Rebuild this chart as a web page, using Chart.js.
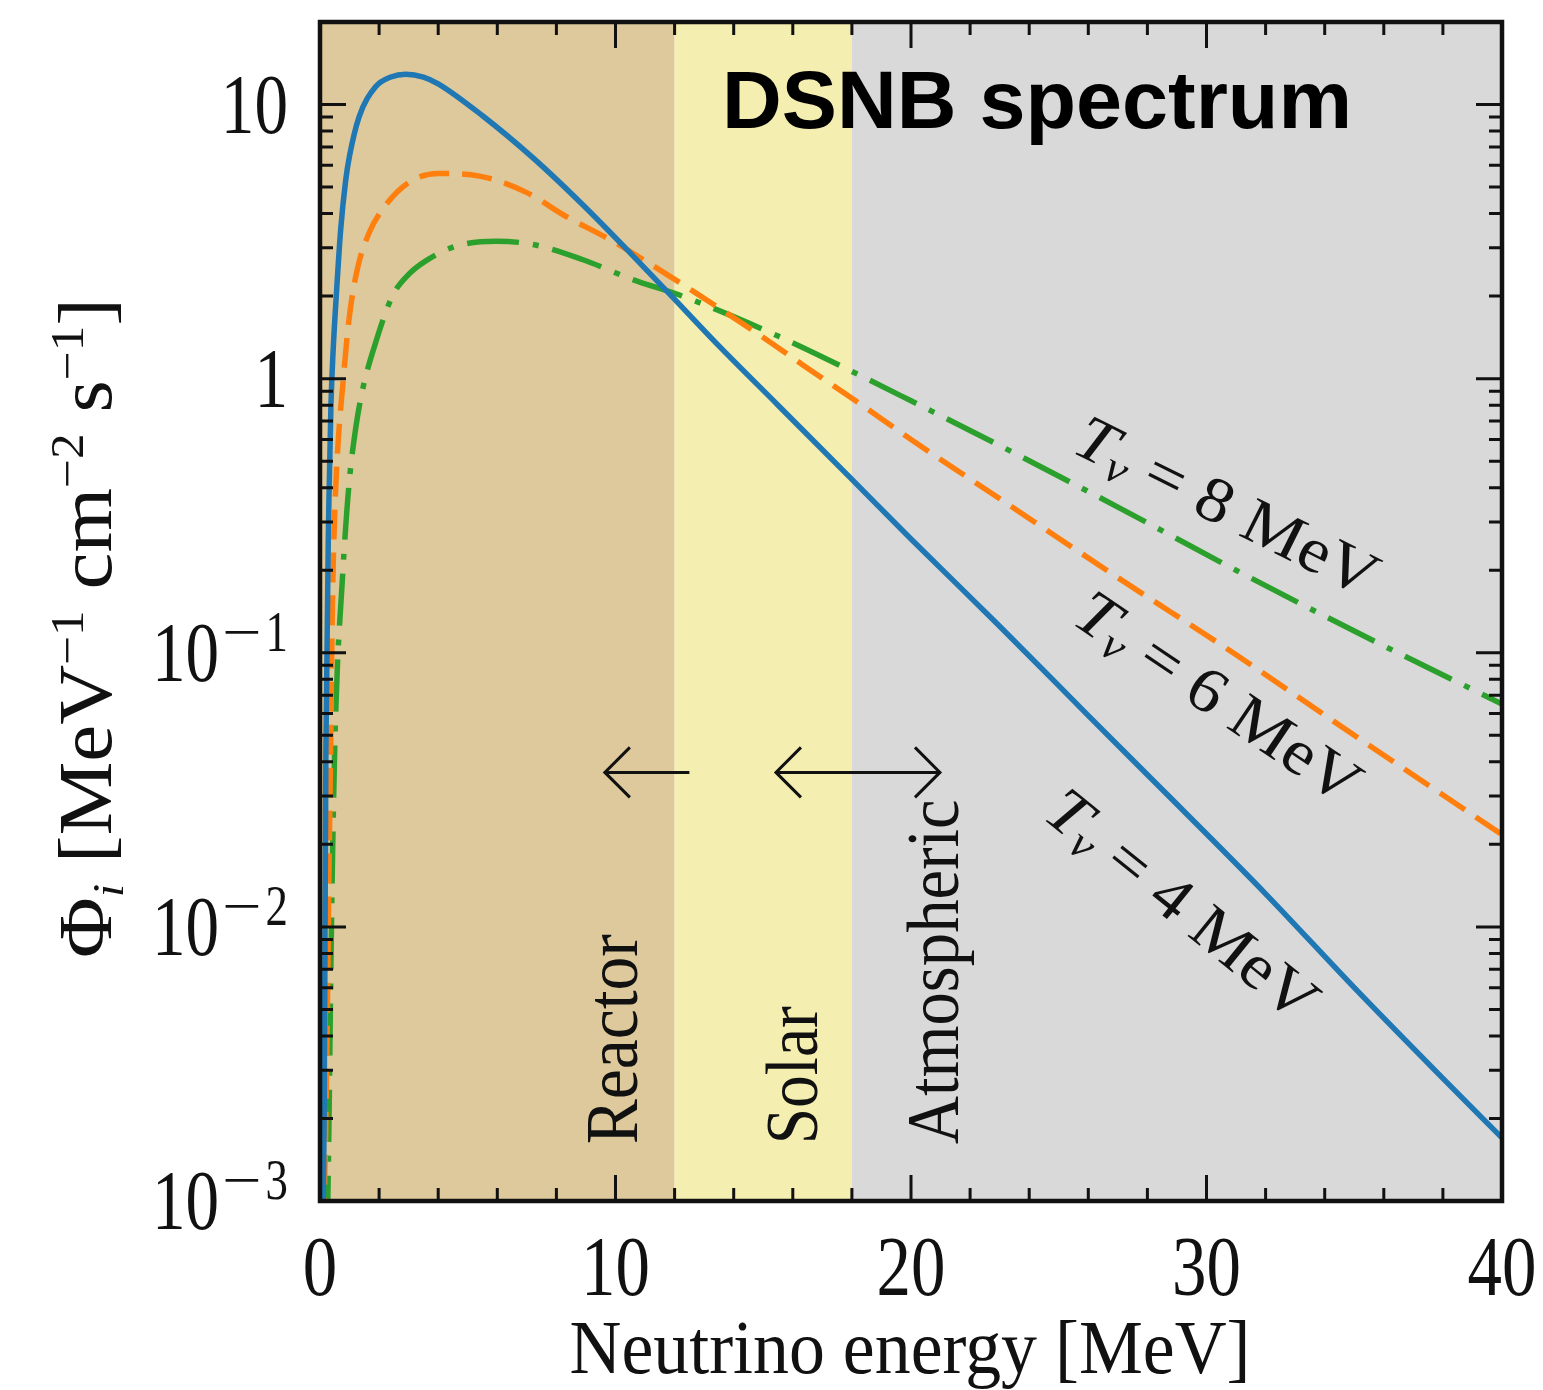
<!DOCTYPE html>
<html>
<head>
<meta charset="utf-8">
<script src="https://cdn.jsdelivr.net/npm/chart.js@4.4.0/dist/chart.umd.min.js"></script>
<style>
  html, body { margin: 0; padding: 0; background: #fff; }
  #wrap { position: relative; width: 1543px; height: 1390px; }
</style>
</head>
<body>
<div id="wrap"><canvas id="dsnb"></canvas></div>
<script>
// values (energy in MeV, flux in MeV^-1 cm^-2 s^-1)
const energyT4 = [0.1, 0.14, 0.2, 0.3, 0.37, 0.45, 0.55, 0.7, 0.87, 1.0, 1.32, 1.88, 2.4, 2.9, 3.5, 4.0, 5.5, 7.2, 8.9, 10.6, 11.9, 13.4, 15.5, 17.9, 20, 23, 26, 29, 32, 35, 38, 40];
const fluxT4 = [0.0008, 0.002, 0.045, 0.35, 0.8, 1.3, 2.0, 3.5, 5.3, 6.5, 9.0, 11.6, 12.6, 12.9, 12.6, 11.9, 9.1, 6.4, 4.3, 2.8, 2.0, 1.35, 0.8, 0.44, 0.26, 0.125, 0.059, 0.028, 0.0132, 0.006, 0.0028, 0.0017];

const energyT6 = [0.12, 0.2, 0.25, 0.3, 0.36, 0.42, 0.51, 0.62, 0.76, 0.98, 1.26, 1.66, 2.11, 3.0, 4.0, 5.4, 7.0, 8.3, 9.8, 11.1, 12.7, 15.1, 16.4, 18.2, 20, 23.2, 27, 30.9, 35, 40];
const fluxT6 = [0.0008, 0.002, 0.005, 0.015, 0.045, 0.15, 0.35, 0.6, 0.92, 1.64, 2.5, 3.4, 4.14, 5.19, 5.6, 5.48, 4.77, 3.92, 3.22, 2.65, 2.06, 1.39, 1.11, 0.82, 0.6, 0.353, 0.188, 0.1, 0.05, 0.0217];

const energyT8 = [0.25, 0.3, 0.36, 0.42, 0.53, 0.75, 0.98, 1.2, 1.43, 1.88, 2.45, 3.0, 3.58, 4.59, 5.95, 7.18, 8.88, 10.57, 12.26, 15.5, 18.5, 20, 23, 27, 31, 35, 40];
const fluxT8 = [0.0008, 0.0018, 0.006, 0.017, 0.06, 0.18, 0.41, 0.65, 0.9, 1.35, 2.0, 2.4, 2.69, 3.04, 3.17, 3.09, 2.72, 2.3, 2.0, 1.43, 1.0, 0.83, 0.57, 0.34, 0.2, 0.12, 0.065];

// axis ticks
const xMajorTicks = [0, 10, 20, 30, 40];
const xMinorTicks = [2, 4, 6, 8, 12, 14, 16, 18, 22, 24, 26, 28, 32, 34, 36, 38];
const yMajorTicks = [0.001, 0.01, 0.1, 1, 10];
const yTickBase = ['10', '10', '10', '1', '10'];
const yTickExp = ['−3', '−2', '−1', '', ''];
const yMinorTicks = [];
for (let d = 0.001; d < 20; d *= 10) {
  for (let m = 2; m <= 9; m++) {
    const v = +(m * d).toPrecision(3);
    if (v <= 20) yMinorTicks.push(v);
  }
}

// shaded energy bands
const bandStart = [0, 12, 18];
const bandEnd = [12, 18, 40];
const bandNames = ['Reactor', 'Solar', 'Atmospheric'];
const bandColors = ['#ddc99b', '#f5eeb1', '#d9d9d9'];
const bandLabelE = [10.73, 16.82, 21.59];
const bandLabelLen = [210, 138, 345];
const bandLabelFlux = 0.00161;

// arrows
const arrowFlux = 0.0366;
const arrowFrom = [12.5, 15.43];
const arrowTo = [9.64, 20.98];
const arrowBoth = [false, true];

// curve labels
const curveTemps = ['8', '6', '4'];
const curveLabelE = [25.38, 25.38, 24.4];
const curveLabelFlux = [0.543, 0.129, 0.0251];
const curveLabelAngle = [26.5, 34, 39];

const SERIF = '"Liberation Serif", "DejaVu Serif", serif';

const toPoints = (xs, ys) => xs.map((x, i) => ({ x, y: ys[i] }));

// draw a run of text segments, optional per-seg scale, gaps, shifts
function richText(ctx, segs, x, y, angle, opts) {
  opts = opts || {};
  const sxDef = opts.sx || 1;
  let total = 0;
  const widths = segs.map(s => {
    ctx.font = `${s.it ? 'italic ' : ''}${s.bold ? 'bold ' : ''}${s.size}px ${s.fam || SERIF}`;
    const w = ctx.measureText(s.t).width * (s.sx || sxDef);
    total += w + (s.gap || 0);
    return w;
  });
  const g = opts.len ? opts.len / total : 1;
  ctx.save();
  ctx.translate(x, y);
  ctx.rotate(angle || 0);
  ctx.scale(g, 1);
  let cx = 0;
  if (opts.align === 'center') cx = -total / 2;
  if (opts.align === 'right') cx = -total;
  ctx.fillStyle = opts.color || '#111';
  ctx.textBaseline = 'alphabetic';
  ctx.textAlign = 'left';
  segs.forEach((s, i) => {
    cx += s.gap || 0;
    ctx.font = `${s.it ? 'italic ' : ''}${s.bold ? 'bold ' : ''}${s.size}px ${s.fam || SERIF}`;
    ctx.save();
    ctx.translate(cx, s.dy || 0);
    ctx.scale(s.sx || sxDef, 1);
    ctx.fillText(s.t, 0, 0);
    ctx.restore();
    cx += widths[i];
  });
  ctx.restore();
}

const bandsPlugin = {
  id: 'bands',
  beforeDatasetsDraw(chart) {
    const { ctx, chartArea: a, scales: { x } } = chart;
    ctx.save();
    bandStart.forEach((s, i) => {
      const x0 = x.getPixelForValue(s);
      const x1 = x.getPixelForValue(bandEnd[i]);
      ctx.fillStyle = bandColors[i];
      ctx.fillRect(x0, a.top, x1 - x0, a.bottom - a.top);
    });
    ctx.restore();
  }
};

const framePlugin = {
  id: 'frame',
  afterDatasetsDraw(chart) {
    const { ctx, chartArea: a, scales: { x, y } } = chart;
    ctx.save();
    ctx.strokeStyle = '#111';
    ctx.lineCap = 'butt';

    // inward ticks on all four sides
    const tick = (vals, len, onX) => {
      vals.forEach(v => {
        ctx.beginPath();
        if (onX) {
          const px = x.getPixelForValue(v);
          ctx.moveTo(px, a.bottom); ctx.lineTo(px, a.bottom - len);
          ctx.moveTo(px, a.top); ctx.lineTo(px, a.top + len);
        } else {
          const py = y.getPixelForValue(v);
          ctx.moveTo(a.left, py); ctx.lineTo(a.left + len, py);
          ctx.moveTo(a.right, py); ctx.lineTo(a.right - len, py);
        }
        ctx.stroke();
      });
    };
    ctx.lineWidth = 3;
    tick(xMajorTicks, 26, true);
    tick(xMinorTicks, 13, true);
    tick(yMajorTicks, 26, false);
    tick(yMinorTicks, 13, false);

    ctx.lineWidth = 4.5;
    ctx.strokeRect(a.left, a.top, a.right - a.left, a.bottom - a.top);

    // arrows
    ctx.lineWidth = 3;
    ctx.lineJoin = 'miter';
    const ay = y.getPixelForValue(arrowFlux);
    const head = (px, dir) => {
      ctx.beginPath();
      ctx.moveTo(px - dir * 25, ay - 25);
      ctx.lineTo(px, ay);
      ctx.lineTo(px - dir * 25, ay + 25);
      ctx.stroke();
    };
    arrowFrom.forEach((f, i) => {
      const p0 = x.getPixelForValue(f);
      const p1 = x.getPixelForValue(arrowTo[i]);
      ctx.beginPath();
      ctx.moveTo(p0, ay); ctx.lineTo(p1, ay);
      ctx.stroke();
      head(p1, Math.sign(p1 - p0));
      if (arrowBoth[i]) head(p0, Math.sign(p0 - p1));
    });

    // band names, rotated
    bandNames.forEach((n, i) => {
      richText(ctx, [{ t: n, size: 74 }], x.getPixelForValue(bandLabelE[i]),
        y.getPixelForValue(bandLabelFlux), -Math.PI / 2, { len: bandLabelLen[i] });
    });

    // curve labels
    curveTemps.forEach((t, i) => {
      richText(ctx, [
        { t: 'T', size: 64, it: true },
        { t: 'ν', size: 44, it: true, dy: 9 },
        { t: ' = ' + t + ' MeV', size: 64 }
      ], x.getPixelForValue(curveLabelE[i]), y.getPixelForValue(curveLabelFlux[i]),
        curveLabelAngle[i] * Math.PI / 180, { len: 330 });
    });
    ctx.restore();
  },
  afterDraw(chart) {
    const { ctx, scales: { x, y } } = chart;
    // x tick labels
    xMajorTicks.forEach(v => {
      richText(ctx, [{ t: String(v), size: 84 }], x.getPixelForValue(v), 1295, 0,
        { align: 'center', sx: 0.82 });
    });
    // y tick labels
    yMajorTicks.forEach((v, i) => {
      const segs = [{ t: yTickBase[i], size: 84, sx: 0.8 }];
      if (yTickExp[i]) {
        segs.push({ t: yTickExp[i][0], size: 56, sx: 1.25, dy: -30, gap: 3 });
        segs.push({ t: yTickExp[i].slice(1), size: 56, sx: 0.8, dy: -30, gap: 4 });
      }
      richText(ctx, segs, 288, y.getPixelForValue(v) + 28, 0, { align: 'right' });
    });
    // axis titles
    richText(ctx, [{ t: 'Neutrino energy [MeV]', size: 77 }], 910, 1373, 0,
      { align: 'center', len: 681 });
    richText(ctx, [
      { t: 'Φ', size: 76 },
      { t: 'i', size: 44, it: true, dy: 12 },
      { t: ' [MeV', size: 76 },
      { t: '−1', size: 47, dy: -28 },
      { t: ' cm', size: 76 },
      { t: '−2', size: 47, dy: -28 },
      { t: ' s', size: 76 },
      { t: '−1', size: 47, dy: -28 },
      { t: ']', size: 76 }
    ], 111, 628, -Math.PI / 2, { align: 'center', len: 660 });
    // headline
    richText(ctx, [{ t: 'DSNB spectrum', size: 81, bold: true, fam: '"Liberation Sans", Arial, sans-serif' }],
      722, 128, 0, { len: 630, color: '#000' });
  }
};

const lineBase = {
  pointRadius: 0,
  borderWidth: 5.5,
  fill: false,
  cubicInterpolationMode: 'monotone',
  borderCapStyle: 'butt',
  borderJoinStyle: 'round'
};

new Chart(document.getElementById('dsnb'), {
  type: 'line',
  data: {
    datasets: [
      { ...lineBase, label: 'T = 4 MeV', data: toPoints(energyT4, fluxT4), borderColor: '#1f77b4' },
      { ...lineBase, label: 'T = 6 MeV', data: toPoints(energyT6, fluxT6), borderColor: '#ff7f0e', borderDash: [30, 13] },
      { ...lineBase, label: 'T = 8 MeV', data: toPoints(energyT8, fluxT8), borderColor: '#2ca02c', borderDash: [52, 14, 6, 14] }
    ]
  },
  options: {
    responsive: true,
    maintainAspectRatio: false,
    animation: false,
    layout: { padding: { top: 22, right: 41, left: 0, bottom: 0 } },
    plugins: { legend: { display: false }, tooltip: { enabled: false } },
    scales: {
      x: {
        type: 'linear', min: 0, max: 40,
        ticks: { display: false }, grid: { display: false }, border: { display: false },
        afterFit(s) { s.height = 189; }
      },
      y: {
        type: 'logarithmic', min: 0.001, max: 20,
        ticks: { display: false }, grid: { display: false }, border: { display: false },
        afterFit(s) { s.width = 320; }
      }
    }
  },
  plugins: [bandsPlugin, framePlugin]
});
</script>
</body>
</html>
